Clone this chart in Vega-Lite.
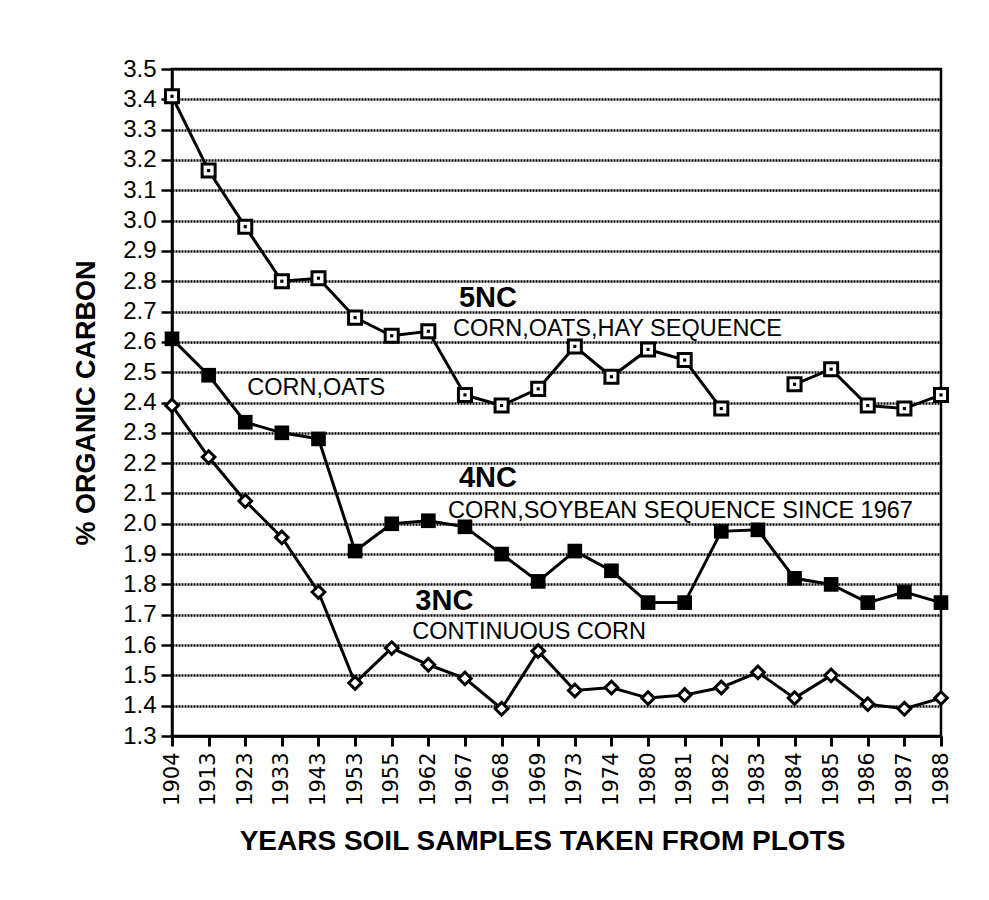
{
  "$schema": "https://vega.github.io/schema/vega-lite/v6.json",
  "autosize": "none",
  "width": 769,
  "height": 667,
  "padding": {"left": 172, "top": 69, "right": 48, "bottom": 164},
  "background": "white",
  "config": {
    "view": {"stroke": "black", "strokeWidth": 2.5},
    "font": "Liberation Sans"
  },
  "datasets": {
    "soil": [
      {"year": "1904", "plot": "5NC", "carbon": 3.41},
      {"year": "1913", "plot": "5NC", "carbon": 3.165},
      {"year": "1923", "plot": "5NC", "carbon": 2.98},
      {"year": "1933", "plot": "5NC", "carbon": 2.80},
      {"year": "1943", "plot": "5NC", "carbon": 2.81},
      {"year": "1953", "plot": "5NC", "carbon": 2.68},
      {"year": "1955", "plot": "5NC", "carbon": 2.62},
      {"year": "1962", "plot": "5NC", "carbon": 2.635},
      {"year": "1967", "plot": "5NC", "carbon": 2.425},
      {"year": "1968", "plot": "5NC", "carbon": 2.39},
      {"year": "1969", "plot": "5NC", "carbon": 2.445},
      {"year": "1973", "plot": "5NC", "carbon": 2.585},
      {"year": "1974", "plot": "5NC", "carbon": 2.485},
      {"year": "1980", "plot": "5NC", "carbon": 2.575},
      {"year": "1981", "plot": "5NC", "carbon": 2.54},
      {"year": "1982", "plot": "5NC", "carbon": 2.38},
      {"year": "1983", "plot": "5NC", "carbon": null},
      {"year": "1984", "plot": "5NC", "carbon": 2.46},
      {"year": "1985", "plot": "5NC", "carbon": 2.51},
      {"year": "1986", "plot": "5NC", "carbon": 2.39},
      {"year": "1987", "plot": "5NC", "carbon": 2.38},
      {"year": "1988", "plot": "5NC", "carbon": 2.425},
      {"year": "1904", "plot": "4NC", "carbon": 2.61},
      {"year": "1913", "plot": "4NC", "carbon": 2.49},
      {"year": "1923", "plot": "4NC", "carbon": 2.335},
      {"year": "1933", "plot": "4NC", "carbon": 2.30},
      {"year": "1943", "plot": "4NC", "carbon": 2.28},
      {"year": "1953", "plot": "4NC", "carbon": 1.91},
      {"year": "1955", "plot": "4NC", "carbon": 2.00},
      {"year": "1962", "plot": "4NC", "carbon": 2.01},
      {"year": "1967", "plot": "4NC", "carbon": 1.99},
      {"year": "1968", "plot": "4NC", "carbon": 1.90},
      {"year": "1969", "plot": "4NC", "carbon": 1.81},
      {"year": "1973", "plot": "4NC", "carbon": 1.91},
      {"year": "1974", "plot": "4NC", "carbon": 1.845},
      {"year": "1980", "plot": "4NC", "carbon": 1.74},
      {"year": "1981", "plot": "4NC", "carbon": 1.74},
      {"year": "1982", "plot": "4NC", "carbon": 1.975},
      {"year": "1983", "plot": "4NC", "carbon": 1.98},
      {"year": "1984", "plot": "4NC", "carbon": 1.82},
      {"year": "1985", "plot": "4NC", "carbon": 1.80},
      {"year": "1986", "plot": "4NC", "carbon": 1.74},
      {"year": "1987", "plot": "4NC", "carbon": 1.775},
      {"year": "1988", "plot": "4NC", "carbon": 1.74},
      {"year": "1904", "plot": "3NC", "carbon": 2.39},
      {"year": "1913", "plot": "3NC", "carbon": 2.22},
      {"year": "1923", "plot": "3NC", "carbon": 2.075},
      {"year": "1933", "plot": "3NC", "carbon": 1.955},
      {"year": "1943", "plot": "3NC", "carbon": 1.775},
      {"year": "1953", "plot": "3NC", "carbon": 1.475},
      {"year": "1955", "plot": "3NC", "carbon": 1.59},
      {"year": "1962", "plot": "3NC", "carbon": 1.535},
      {"year": "1967", "plot": "3NC", "carbon": 1.49},
      {"year": "1968", "plot": "3NC", "carbon": 1.39},
      {"year": "1969", "plot": "3NC", "carbon": 1.58},
      {"year": "1973", "plot": "3NC", "carbon": 1.45},
      {"year": "1974", "plot": "3NC", "carbon": 1.46},
      {"year": "1980", "plot": "3NC", "carbon": 1.425},
      {"year": "1981", "plot": "3NC", "carbon": 1.435},
      {"year": "1982", "plot": "3NC", "carbon": 1.46},
      {"year": "1983", "plot": "3NC", "carbon": 1.51},
      {"year": "1984", "plot": "3NC", "carbon": 1.425},
      {"year": "1985", "plot": "3NC", "carbon": 1.50},
      {"year": "1986", "plot": "3NC", "carbon": 1.405},
      {"year": "1987", "plot": "3NC", "carbon": 1.39},
      {"year": "1988", "plot": "3NC", "carbon": 1.425}
    ]
  },
  "data": {"name": "soil"},
  "encoding": {
    "x": {
      "field": "year", "type": "ordinal",
      "scale": {"type": "point", "padding": 0},
      "axis": {
        "title": "YEARS SOIL SAMPLES TAKEN FROM PLOTS",
        "titleFont": "Liberation Sans", "titleFontSize": 28, "titleFontWeight": "bold",
        "titleColor": "black", "titlePadding": 22, "titleX": 370,
        "labelAngle": -90, "labelAlign": "right", "labelBaseline": "middle",
        "labelFont": "DejaVu Sans", "labelFontSize": 21, "labelColor": "black",
        "labelPadding": 6,
        "domainColor": "black", "domainWidth": 2.5,
        "tickColor": "black", "tickWidth": 3, "tickSize": 10,
        "grid": false
      }
    },
    "y": {
      "field": "carbon", "type": "quantitative",
      "scale": {"domain": [1.3, 3.5], "nice": false, "zero": false},
      "axis": {
        "title": "% ORGANIC CARBON",
        "titleFont": "Liberation Sans", "titleFontSize": 27, "titleFontWeight": "bold",
        "titleColor": "black", "titlePadding": 22,
        "values": [1.3,1.4,1.5,1.6,1.7,1.8,1.9,2.0,2.1,2.2,2.3,2.4,2.5,2.6,2.7,2.8,2.9,3.0,3.1,3.2,3.3,3.4,3.5],
        "format": ".1f",
        "labelFont": "Liberation Sans", "labelFontSize": 24, "labelColor": "black",
        "labelPadding": 5,
        "domainColor": "black", "domainWidth": 2.5,
        "tickColor": "black", "tickWidth": 2.5, "tickSize": 11,
        "grid": true, "gridColor": "black", "gridWidth": 2.5, "gridDash": [2, 1]
      }
    }
  },
  "layer": [
    {
      "mark": {"type": "line", "color": "black", "strokeWidth": 3, "invalid": "break-paths-show-domains"},
      "encoding": {"detail": {"field": "plot"}}
    },
    {
      "transform": [{"filter": "datum.plot == '5NC' && datum.carbon != null"}],
      "mark": {"type": "point", "shape": "square", "size": 170, "filled": true, "fill": "white", "stroke": "black", "strokeWidth": 3, "opacity": 1}
    },
    {
      "transform": [{"filter": "datum.plot == '5NC' && datum.carbon != null"}],
      "mark": {"type": "point", "shape": "square", "size": 10, "filled": true, "fill": "black", "opacity": 1}
    },
    {
      "transform": [{"filter": "datum.plot == '4NC'"}],
      "mark": {"type": "point", "shape": "square", "size": 215, "filled": true, "fill": "black", "opacity": 1}
    },
    {
      "transform": [{"filter": "datum.plot == '3NC'"}],
      "mark": {"type": "point", "shape": "diamond", "size": 160, "filled": true, "fill": "white", "stroke": "black", "strokeWidth": 3, "opacity": 1}
    },
    {
      "data": {"values": [{"year": "1967", "carbon": 2.715, "label": "5NC"}, {"year": "1967", "carbon": 2.121, "label": "4NC"}]},
      "mark": {"type": "text", "font": "Liberation Sans", "fontSize": 29, "fontWeight": "bold", "align": "center", "baseline": "alphabetic", "dx": 23, "color": "black"},
      "encoding": {"text": {"field": "label"}}
    },
    {
      "data": {"values": [{"year": "1962", "carbon": 1.716, "label": "3NC"}]},
      "mark": {"type": "text", "font": "Liberation Sans", "fontSize": 29, "fontWeight": "bold", "align": "center", "baseline": "alphabetic", "dx": 16, "color": "black"},
      "encoding": {"text": {"field": "label"}}
    },
    {
      "data": {"values": [{"year": "1967", "carbon": 2.62, "label": "CORN,OATS,HAY SEQUENCE"}]},
      "mark": {"type": "text", "font": "Liberation Sans", "fontSize": 23.5, "align": "left", "baseline": "alphabetic", "dx": -12, "color": "black"},
      "encoding": {"text": {"field": "label"}}
    },
    {
      "data": {"values": [{"year": "1967", "carbon": 2.019, "label": "CORN,SOYBEAN SEQUENCE SINCE 1967"}]},
      "mark": {"type": "text", "font": "Liberation Sans", "fontSize": 23.5, "align": "left", "baseline": "alphabetic", "dx": -17, "color": "black"},
      "encoding": {"text": {"field": "label"}}
    },
    {
      "data": {"values": [{"year": "1923", "carbon": 2.425, "label": "CORN,OATS"}]},
      "mark": {"type": "text", "font": "Liberation Sans", "fontSize": 23.5, "align": "left", "baseline": "alphabetic", "dx": 2, "color": "black"},
      "encoding": {"text": {"field": "label"}}
    },
    {
      "data": {"values": [{"year": "1962", "carbon": 1.62, "label": "CONTINUOUS CORN"}]},
      "mark": {"type": "text", "font": "Liberation Sans", "fontSize": 23.5, "align": "left", "baseline": "alphabetic", "dx": -16, "color": "black"},
      "encoding": {"text": {"field": "label"}}
    }
  ]
}
